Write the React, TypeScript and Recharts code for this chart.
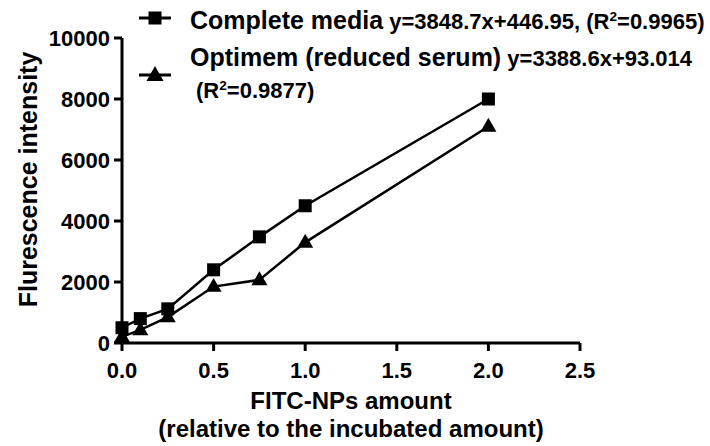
import React from 'react';
import { LineChart, Line, XAxis, YAxis, Legend } from 'recharts';

const amounts = [0, 0.1, 0.25, 0.5, 0.75, 1.0, 2.0];
const completeMedia = [500, 800, 1120, 2400, 3480, 4500, 8000];
const optimem = [200, 430, 850, 1850, 2070, 3300, 7100];

const xTicks = [0, 0.5, 1.0, 1.5, 2.0, 2.5];
const yTicks = [0, 2000, 4000, 6000, 8000, 10000];

const seriesNames = ['Complete media', 'Optimem (reduced serum)'];
const equations = ['y=3848.7x+446.95,', 'y=3388.6x+93.014'];
const rSquared = ['0.9965', '0.9877'];

const FONT = '"Liberation Sans", Arial, Helvetica, sans-serif';

const data = amounts.map((x, i) => ({
    x,
    complete: completeMedia[i],
    optimem: optimem[i],
}));

const SquareDot = (props: any) => {
    const { cx, cy } = props;
    if (cx == null || cy == null) return null;
    return <rect x={cx - 6.5} y={cy - 6.5} width={13} height={13} fill="#000" />;
};

const TriangleDot = (props: any) => {
    const { cx, cy } = props;
    if (cx == null || cy == null) return null;
    const s = 16;
    const h = s * 0.87;
    return (
        <polygon
            points={`${cx},${cy - h * 0.62} ${cx - s / 2},${cy + h * 0.38} ${cx + s / 2},${cy + h * 0.38}`}
            fill="#000"
        />
    );
};

const R2 = ({ value }: { value: string }) => (
    <span>
        (R<span style={{ fontSize: '0.62em', position: 'relative', top: '-0.6em' }}>2</span>={value})
    </span>
);

const LegendMarker = ({ kind }: { kind: 'square' | 'triangle' }) => (
    <svg width={36} height={20} style={{ position: 'absolute', left: 0, top: 0 }}>
        <line x1={2} y1={10} x2={34} y2={10} stroke="#000" strokeWidth={3} />
        {kind === 'square' ? (
            <rect x={11.5} y={3.5} width={13} height={13} fill="#000" />
        ) : (
            <polygon points="18,1 9.5,16 26.5,16" fill="#000" />
        )}
    </svg>
);

const renderLegend = () => {
    const nameStyle: React.CSSProperties = { fontSize: 25 };
    const eqStyle: React.CSSProperties = { fontSize: 22 };
    const line: React.CSSProperties = {
        position: 'absolute',
        left: 190,
        whiteSpace: 'pre',
        lineHeight: '30px',
        fontWeight: 'bold',
        fontFamily: FONT,
        color: '#000',
    };
    return (
        <div style={{ position: 'relative', width: 710, height: 110 }}>
            <div style={{ position: 'absolute', left: 137, top: 8 }}>
                <LegendMarker kind="square" />
            </div>
            <div style={{ position: 'absolute', left: 137, top: 65 }}>
                <LegendMarker kind="triangle" />
            </div>
            <div style={{ ...line, top: 5 }}>
                <span style={nameStyle}>{seriesNames[0]}</span>
                <span style={eqStyle}> {equations[0]} <R2 value={rSquared[0]} /></span>
            </div>
            <div style={{ ...line, top: 42 }}>
                <span style={nameStyle}>{seriesNames[1]}</span>
                <span style={eqStyle}> {equations[1]}</span>
            </div>
            <div style={{ ...line, top: 76, left: 196 }}>
                <span style={eqStyle}><R2 value={rSquared[1]} /></span>
            </div>
        </div>
    );
};

const YTitle = (props: any) => {
    const { viewBox } = props;
    const cy = viewBox.y + viewBox.height / 2 - 11;
    return (
        <text
            x={37}
            y={cy}
            transform={`rotate(-90, 37, ${cy})`}
            textAnchor="middle"
            fontFamily={FONT}
            fontWeight="bold"
            fontSize={25}
            fill="#000"
        >
            Flurescence intensity
        </text>
    );
};

const XTitle = (props: any) => {
    const { viewBox } = props;
    const cx = viewBox.x + viewBox.width / 2;
    const top = viewBox.y;
    return (
        <text textAnchor="middle" fontFamily={FONT} fontWeight="bold" fontSize={24} fill="#000">
            <tspan x={cx} y={top + 66}>FITC-NPs amount</tspan>
            <tspan x={cx} y={top + 94}>(relative to the incubated amount)</tspan>
        </text>
    );
};

const tickStyle = { fill: '#000', fontSize: 22, fontWeight: 'bold', fontFamily: FONT };

export default function App() {
    return (
        <div style={{ width: 710, height: 446, background: '#fff' }}>
            <style>{`body{margin:0}`}</style>
            <LineChart
                width={710}
                height={446}
                data={data}
                margin={{ top: 38, right: 130, bottom: 43, left: 12 }}
            >
                <XAxis
                    dataKey="x"
                    type="number"
                    domain={[0, 2.5]}
                    ticks={xTicks}
                    tickFormatter={(v: number) => v.toFixed(1)}
                    height={60}
                    axisLine={{ stroke: '#000', strokeWidth: 3 }}
                    tickLine={{ stroke: '#000', strokeWidth: 3 }}
                    tickSize={8}
                    tickMargin={11}
                    tick={tickStyle}
                    interval={0}
                    label={<XTitle />}
                />
                <YAxis
                    type="number"
                    domain={[0, 10000]}
                    ticks={yTicks}
                    width={110}
                    axisLine={{ stroke: '#000', strokeWidth: 3 }}
                    tickLine={{ stroke: '#000', strokeWidth: 3 }}
                    tickSize={8}
                    tickMargin={4}
                    tick={tickStyle}
                    interval={0}
                    label={<YTitle />}
                />
                <Legend
                    layout="vertical"
                    align="center"
                    verticalAlign="middle"
                    content={renderLegend}
                    wrapperStyle={{ top: 0, left: 0, width: 710, height: 110 }}
                />
                <Line
                    dataKey="complete"
                    name={seriesNames[0]}
                    stroke="#000"
                    strokeWidth={2.5}
                    dot={<SquareDot />}
                    isAnimationActive={false}
                />
                <Line
                    dataKey="optimem"
                    name={seriesNames[1]}
                    stroke="#000"
                    strokeWidth={2.5}
                    dot={<TriangleDot />}
                    isAnimationActive={false}
                />
            </LineChart>
        </div>
    );
}
